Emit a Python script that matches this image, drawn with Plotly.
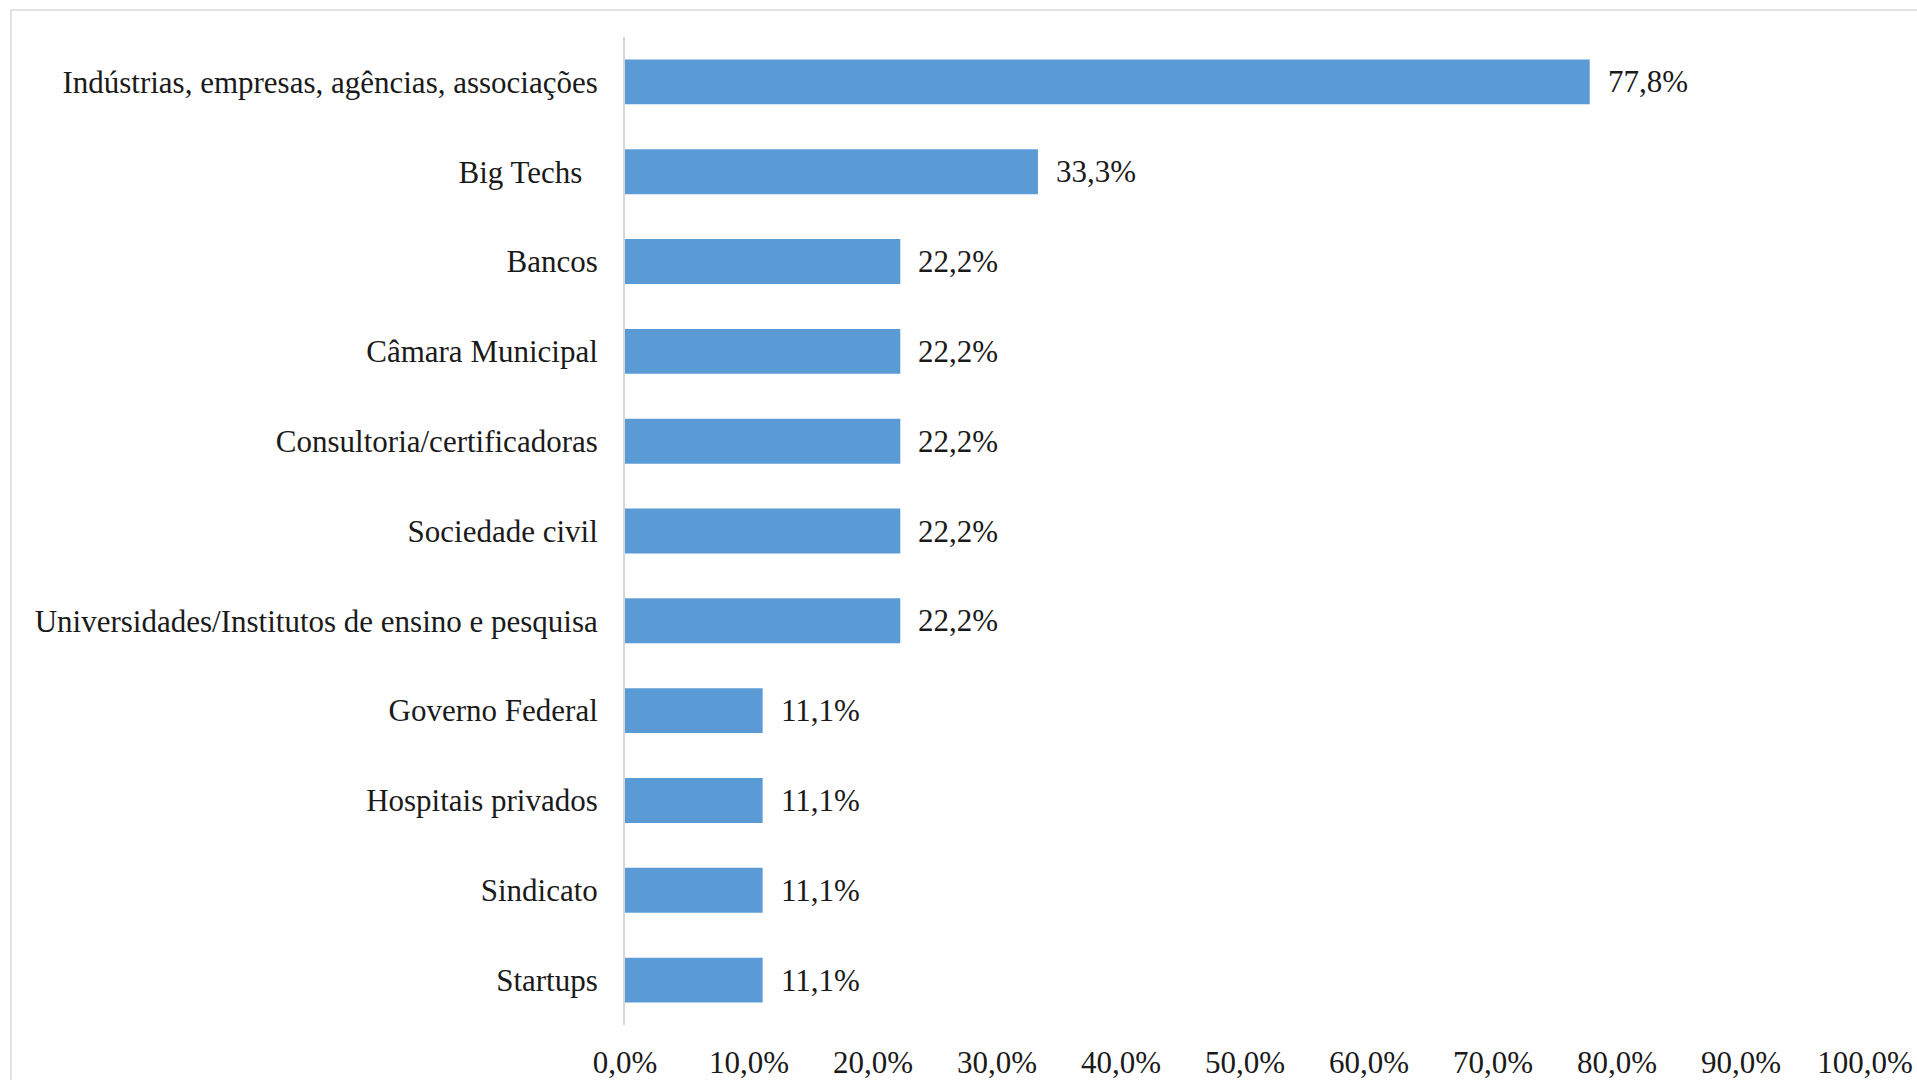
import plotly.graph_objects as go

# Share of respondents citing each type of partner
categories = [
    "Indústrias, empresas, agências, associações",
    "Big Techs\u00a0\u00a0",
    "Bancos",
    "Câmara Municipal",
    "Consultoria/certificadoras",
    "Sociedade civil",
    "Universidades/Institutos de ensino e pesquisa",
    "Governo Federal",
    "Hospitais privados",
    "Sindicato",
    "Startups",
]
shares = [0.778, 0.333, 0.222, 0.222, 0.222, 0.222, 0.222, 0.111, 0.111, 0.111, 0.111]
x_ticks = [i / 10 for i in range(11)]

W, H = 1917, 1080
ML, MR, MT, MB = 625, 52, 37, 55
FONT = "Liberation Serif, Times New Roman, serif"
TEXT = "#1a1a1a"
BAR = "#5B9BD5"

fig = go.Figure(
    go.Bar(
        x=shares,
        y=categories,
        orientation="h",
        marker=dict(color=BAR, line=dict(width=0)),
        width=0.5,
        hoverinfo="skip",
    )
)

# value labels to the right of each bar
for cat, val in zip(categories, shares):
    fig.add_annotation(
        x=val, y=cat, xref="x", yref="y",
        text=f"{val * 100:.1f}%".replace(".", ","),
        showarrow=False, xanchor="left", yanchor="middle",
        xshift=16, font=dict(family=FONT, size=31, color=TEXT),
    )

# light frame around the chart area (runs off the right and bottom edges)
pw, ph = W - ML - MR, H - MT - MB
def px_to_paper_x(px):
    return (px - ML) / pw
def px_to_paper_y(py):
    return (H - MB - py) / ph

fig.add_shape(
    type="rect", xref="paper", yref="paper",
    x0=px_to_paper_x(11), x1=px_to_paper_x(W + 20),
    y0=px_to_paper_y(H + 20), y1=px_to_paper_y(10),
    line=dict(color="#e2e2e2", width=2), fillcolor="rgba(0,0,0,0)",
    layer="below",
)

fig.update_layout(
    width=W, height=H,
    margin=dict(l=ML, r=MR, t=MT, b=MB, pad=0, autoexpand=False),
    paper_bgcolor="white", plot_bgcolor="white",
    separators=",.",
    showlegend=False,
    font=dict(family=FONT, size=31, color=TEXT),
    xaxis=dict(
        range=[0, 1], tickvals=x_ticks, tickformat=".1%",
        showgrid=False, zeroline=False, showline=False,
        ticks="", ticklabelstandoff=16, automargin=False,
        tickfont=dict(family=FONT, size=31, color=TEXT),
        fixedrange=True,
    ),
    yaxis=dict(
        autorange="reversed", showgrid=False, zeroline=False,
        showline=True, linecolor="#d6d6d6", linewidth=2,
        ticks="", ticklabelstandoff=19, automargin=False,
        tickfont=dict(family=FONT, size=31, color=TEXT),
        fixedrange=True,
    ),
)

fig.write_html("out.html")
